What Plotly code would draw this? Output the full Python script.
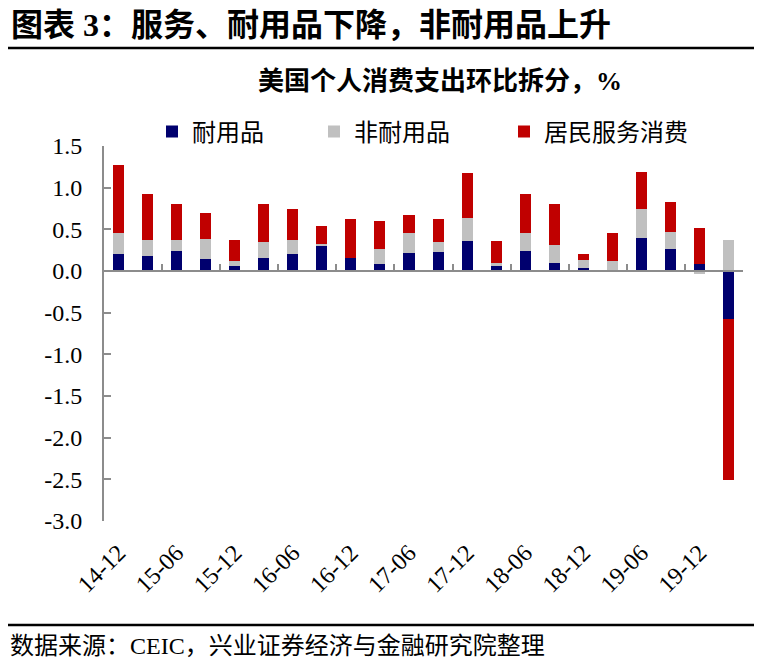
import plotly.graph_objects as go

# ---- data ----
categories = ["14-12", "15-03", "15-06", "15-09", "15-12", "16-03", "16-06", "16-09",
              "16-12", "17-03", "17-06", "17-09", "17-12", "18-03", "18-06", "18-09",
              "18-12", "19-03", "19-06", "19-09", "19-12", "20-03"]
durable = [0.21, 0.18, 0.24, 0.14, 0.06, 0.16, 0.20, 0.30, 0.16, 0.09, 0.22,
           0.23, 0.36, 0.06, 0.24, 0.10, 0.04, 0.00, 0.40, 0.26, 0.08, -0.58]
nondurable = [0.25, 0.19, 0.13, 0.24, 0.06, 0.19, 0.17, 0.03, 0.00, 0.18, 0.24,
              0.12, 0.28, 0.04, 0.22, 0.21, 0.09, 0.12, 0.35, 0.21, -0.03, 0.37]
services = [0.81, 0.55, 0.43, 0.32, 0.25, 0.46, 0.38, 0.21, 0.46, 0.33, 0.21,
            0.28, 0.54, 0.26, 0.46, 0.50, 0.08, 0.34, 0.44, 0.36, 0.44, -1.93]
series_names = ["耐用品", "非耐用品", "居民服务消费"]
y_tick_vals = [1.5, 1.0, 0.5, 0.0, -0.5, -1.0, -1.5, -2.0, -2.5, -3.0]
y_tick_text = ["1.5", "1.0", "0.5", "0.0", "-0.5", "-1.0", "-1.5", "-2.0", "-2.5", "-3.0"]

title_text = "图表 3：服务、耐用品下降，非耐用品上升"
chart_title = "美国个人消费支出环比拆分，%"
source_text = "数据来源：CEIC，兴业证券经济与金融研究院整理"

# ---- geometry (page pixels; the page body adds an 8px offset) ----
OFF = 8
PAGE_W, PAGE_H = 762, 667
W, H = PAGE_W - OFF, PAGE_H - OFF
PLOT_L, PLOT_R, PLOT_T, PLOT_B = 104, 743, 146, 521   # page px
ML, MR = PLOT_L - OFF, PAGE_W - PLOT_R
MT, MB = PLOT_T - OFF, PAGE_H - PLOT_B
PW, PH = W - ML - MR, H - MT - MB

def px_x(p):
    return (p - OFF - ML) / PW

def px_y(p):
    return (H - MB - (p - OFF)) / PH

def cx(p):
    return (p - OFF) / W

def cy(p):
    return 1 - (p - OFF) / H

FONT = "Liberation Serif, Noto Sans CJK SC, serif"
colors = ["#00006E", "#C0C0C0", "#C00000"]
AX = "#8C8C8C"

idx = list(range(len(categories)))

fig = go.Figure()
legend_ids = ["legend", "legend2", "legend3"]
for name, vals, col, lg in zip(series_names, [durable, nondurable, services], colors, legend_ids):
    fig.add_trace(go.Bar(x=idx, y=vals, name=name, marker=dict(color=col, line=dict(width=0)),
                         width=0.38, legend=lg, hoverinfo="skip"))

# helper (invisible) trace so the label axis is drawn
fig.add_trace(go.Scatter(x=idx[::2], y=[0] * len(idx[::2]), xaxis="x2", yaxis="y",
                         mode="markers", marker=dict(opacity=0), showlegend=False,
                         hoverinfo="skip"))

zero_pos = (0 - y_tick_vals[-1]) / (y_tick_vals[0] - y_tick_vals[-1])
boundaries = [i + 1.5 for i in range(0, len(categories), 2)]

legend_common = dict(orientation="h", xref="container", yref="container",
                     xanchor="left", yanchor="middle", bgcolor="rgba(0,0,0,0)",
                     font=dict(family="Noto Sans CJK SC", size=24, color="#000"),
                     itemwidth=30, tracegroupgap=0)

fig.update_layout(
    width=W, height=H,
    margin=dict(l=ML, r=MR, t=MT, b=MB, autoexpand=False),
    paper_bgcolor="white", plot_bgcolor="white",
    font=dict(family=FONT, size=24, color="#000"),
    barmode="relative",
    bargap=0,
    title=dict(text="<b>" + title_text + "</b>", xref="container", yref="container",
               x=cx(11), xanchor="left", y=cy(25), yanchor="middle",
               font=dict(family=FONT, size=32, color="#000")),
    legend=dict(x=cx(152), y=cy(132), **legend_common),
    legend2=dict(x=cx(314), y=cy(132), **legend_common),
    legend3=dict(x=cx(504), y=cy(132), **legend_common),
    xaxis=dict(range=[-0.5, len(categories) - 0.5], anchor="free", position=zero_pos,
               showline=True, linecolor=AX, linewidth=2, ticks="inside",
               tickvals=boundaries, ticklen=6, tickwidth=2, tickcolor=AX,
               showticklabels=False, showgrid=False, zeroline=False, fixedrange=True),
    xaxis2=dict(range=[-0.5, len(categories) - 0.5], overlaying="x", anchor="y", side="bottom",
                showline=False, ticks="", tickvals=idx[::2], ticktext=categories[::2],
                tickangle=-45, showgrid=False, zeroline=False, ticklabelstandoff=12,
                tickfont=dict(family=FONT, size=24, color="#000")),
    yaxis=dict(range=[y_tick_vals[-1], y_tick_vals[0]], tickvals=y_tick_vals, ticktext=y_tick_text,
               showline=True, linecolor=AX, linewidth=2, ticks="inside", ticklen=7,
               tickwidth=2, tickcolor=AX, showgrid=False, zeroline=False,
               ticklabelstandoff=15,
               tickfont=dict(family=FONT, size=24, color="#000")),
    shapes=[
        dict(type="line", xref="paper", yref="paper", x0=px_x(8), x1=px_x(762),
             y0=px_y(48), y1=px_y(48), line=dict(color="#000", width=2.5)),
        dict(type="line", xref="paper", yref="paper", x0=px_x(8), x1=px_x(762),
             y0=px_y(625), y1=px_y(625), line=dict(color="#000", width=2.5)),
    ],
    annotations=[
        dict(text="<b>" + chart_title + "</b>", xref="paper", yref="paper",
             x=px_x(440), y=px_y(82), xanchor="center", yanchor="middle", showarrow=False,
             font=dict(family=FONT, size=26, color="#000")),
        dict(text=source_text, xref="paper", yref="paper",
             x=px_x(8), y=px_y(646), xanchor="left", yanchor="middle", showarrow=False,
             font=dict(family=FONT, size=24, color="#000")),
    ],
)

fig.write_html("out.html")
